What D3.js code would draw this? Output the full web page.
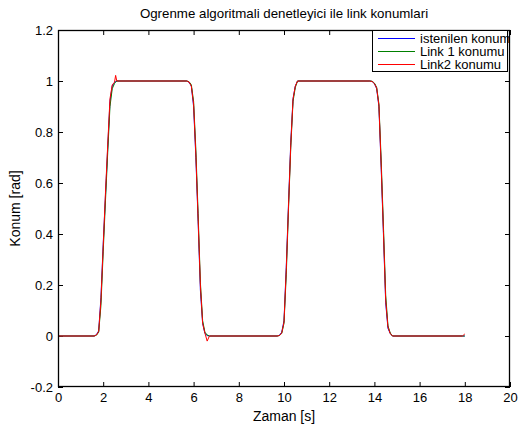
<!DOCTYPE html>
<html>
<head>
<meta charset="utf-8">
<script src="https://cdnjs.cloudflare.com/ajax/libs/d3/7.8.5/d3.min.js"></script>
<style>
  body { margin: 0; background: #fff; }
  svg text { font-family: "Liberation Sans", Arial, sans-serif; fill: #000; }
</style>
</head>
<body>
<div id="chart"></div>
<script>
// time grid (s)
var zaman = [
  0, 1.6, 1.7, 1.8, 1.9, 2.0, 2.1, 2.2, 2.3, 2.4, 2.5, 2.55, 2.6, 2.7,
  5.7, 5.8, 5.9, 6.0, 6.1, 6.2, 6.3, 6.4, 6.5, 6.6, 6.7,
  9.7, 9.8, 9.9, 10.0, 10.1, 10.2, 10.3, 10.4, 10.5, 10.6,
  13.8, 13.9, 14.0, 14.1, 14.2, 14.3, 14.4, 14.5, 14.6, 14.7, 14.8,
  17.9, 18
]
var istenilen = [
  0, 0, 0.005, 0.02, 0.15, 0.36, 0.55, 0.74, 0.92, 0.98, 0.995, 0.998, 1, 1,
  1, 0.995, 0.98, 0.9, 0.7, 0.45, 0.18, 0.05, 0.01, 0.002, 0,
  0, 0.003, 0.015, 0.06, 0.27, 0.52, 0.76, 0.93, 0.98, 1,
  1, 0.998, 0.99, 0.97, 0.9, 0.66, 0.4, 0.13, 0.03, 0.01, 0,
  0, 0
]
var link1 = [
  0, 0, 0.003, 0.015, 0.12, 0.33, 0.53, 0.72, 0.9, 0.97, 0.99, 0.995, 1, 1,
  1, 0.997, 0.985, 0.92, 0.73, 0.48, 0.21, 0.06, 0.015, 0.004, 0,
  0, 0.002, 0.01, 0.05, 0.24, 0.5, 0.74, 0.92, 0.975, 1,
  1, 0.999, 0.992, 0.975, 0.91, 0.69, 0.43, 0.16, 0.04, 0.012, 0,
  0, 0
]
var link2 = [
  0, 0, 0.004, 0.018, 0.14, 0.35, 0.56, 0.75, 0.93, 0.985, 0.995, 1.022, 1, 1,
  1, 0.996, 0.98, 0.91, 0.71, 0.46, 0.2, 0.05, 0.012, -0.02, 0,
  0, 0.002, 0.012, 0.055, 0.26, 0.51, 0.75, 0.93, 0.98, 1,
  1, 0.998, 0.99, 0.972, 0.905, 0.67, 0.41, 0.14, 0.035, 0.01, 0,
  0, 0.008
]
var xTicks = [0, 2, 4, 6, 8, 10, 12, 14, 16, 18, 20]
var yTicks = [-0.2, 0, 0.2, 0.4, 0.6, 0.8, 1, 1.2]
var seriesNames = ["istenilen konum", "Link 1 konumu", "Link2 konumu"]
var seriesColors = ["#0000ff", "#008000", "#ff0000"]

var width = 518, height = 428
var margin = {top: 30, right: 8, bottom: 41, left: 58}

var svg = d3.select("#chart").append("svg")
  .attr("width", width)
  .attr("height", height)

var x = d3.scaleLinear().domain([0, 20]).range([margin.left, width - margin.right])
var y = d3.scaleLinear().domain([-0.2, 1.2]).range([height - margin.bottom, margin.top])

var fmt = d => String(+d.toFixed(1))

// axes with inward ticks (matlab style)
svg.append("g")
  .attr("transform", `translate(0,${height - margin.bottom})`)
  .call(d3.axisBottom(x).tickValues(xTicks).tickFormat(fmt).tickSizeInner(-5).tickSizeOuter(0).tickPadding(6))
svg.append("g")
  .attr("transform", `translate(0,${margin.top})`)
  .call(d3.axisTop(x).tickValues(xTicks).tickFormat("").tickSizeInner(-5).tickSizeOuter(0))
svg.append("g")
  .attr("transform", `translate(${margin.left},0)`)
  .call(d3.axisLeft(y).tickValues(yTicks).tickFormat(fmt).tickSizeInner(-5).tickSizeOuter(0).tickPadding(5))
svg.append("g")
  .attr("transform", `translate(${width - margin.right},0)`)
  .call(d3.axisRight(y).tickValues(yTicks).tickFormat("").tickSizeInner(-5).tickSizeOuter(0))

svg.selectAll(".domain").remove()
svg.selectAll(".tick line").attr("stroke", "#000")
svg.selectAll(".tick text").attr("font-size", 13).attr("font-family", null)

// lines
var line = d3.line()
  .x((d, i) => x(zaman[i]))
  .y(d => y(d))

;[istenilen, link1, link2].forEach((s, k) => {
  svg.append("path")
    .datum(s)
    .attr("fill", "none")
    .attr("stroke", seriesColors[k])
    .attr("stroke-width", 1)
    .attr("d", line)
})

// box around axes
svg.append("rect")
  .attr("x", margin.left + 0.5)
  .attr("y", margin.top + 0.5)
  .attr("width", width - margin.left - margin.right - 1)
  .attr("height", height - margin.top - margin.bottom - 1)
  .attr("fill", "none")
  .attr("stroke", "#000")
  .attr("stroke-width", 1.3)

// legend
var lg = svg.append("g").attr("transform", "translate(372,30)")
lg.append("rect")
  .attr("x", 0.5).attr("y", 0.5)
  .attr("width", 135).attr("height", 41)
  .attr("fill", "#fff")
  .attr("stroke", "#000")
seriesNames.forEach((name, i) => {
  var yy = 8.5 + i * 13
  lg.append("line")
    .attr("x1", 6).attr("x2", 43)
    .attr("y1", yy).attr("y2", yy)
    .attr("stroke", seriesColors[i])
  lg.append("text")
    .attr("x", 48).attr("y", yy)
    .attr("dy", "0.35em")
    .attr("font-size", 13)
    .text(name)
})

// title and labels
svg.append("text")
  .attr("x", (margin.left + width - margin.right) / 2)
  .attr("y", 17.5)
  .attr("text-anchor", "middle")
  .attr("font-size", 13.3)
  .text("Ogrenme algoritmali denetleyici ile link konumlari")

svg.append("text")
  .attr("x", (margin.left + width - margin.right) / 2)
  .attr("y", 421)
  .attr("text-anchor", "middle")
  .attr("font-size", 14)
  .text("Zaman [s]")

svg.append("text")
  .attr("transform", `translate(20,${(margin.top + height - margin.bottom) / 2}) rotate(-90)`)
  .attr("text-anchor", "middle")
  .attr("font-size", 14)
  .text("Konum [rad]")
</script>
</body>
</html>
